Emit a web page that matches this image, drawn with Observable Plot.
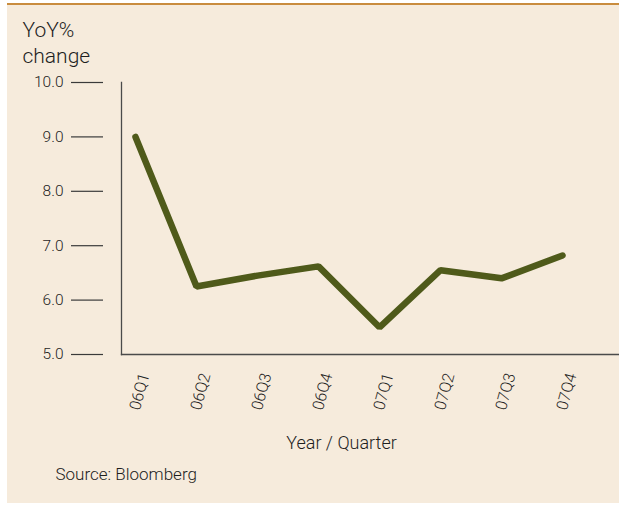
<!DOCTYPE html>
<html>
<head>
<meta charset="utf-8">
<script src="https://cdn.jsdelivr.net/npm/d3@7"></script>
<script src="https://cdn.jsdelivr.net/npm/@observablehq/plot@0.6"></script>
<style>
  html, body { margin: 0; padding: 0; background: #ffffff; }
  #wrap { position: relative; width: 619px; height: 505px; overflow: hidden; }
  #panel { position: absolute; left: 7px; top: 3px; width: 612px; height: 498px;
           background: #f6ebdc; border-top: 2px solid #c98c3e; }
  #chart { position: absolute; left: 0; top: 0; }
  #chart svg { background: transparent; }
</style>
</head>
<body>
<div id="wrap">
  <div id="panel"></div>
  <div id="chart"></div>
</div>
<script>
const quarters = ["06Q1", "06Q2", "06Q3", "06Q4", "07Q1", "07Q2", "07Q3", "07Q4"];
const yoyChange = [9.0, 6.25, 6.45, 6.62, 5.5, 6.55, 6.4, 6.82];
const yTicks = [5, 6, 7, 8, 9, 10];
const titleText = "YoY%\nchange";
const xLabel = "Year / Quarter";
const sourceText = "Source: Bloomberg";

const data = quarters.map((q, i) => ({q, v: yoyChange[i]}));
const font = "Roboto, 'Noto Sans', sans-serif";
const ink = "#1e1e1e";
const fw = 300;

const chart = Plot.plot({
  width: 619,
  height: 505,
  marginLeft: 121,
  marginRight: 0,
  marginTop: 82,
  marginBottom: 151,
  style: {fontFamily: font, color: ink, background: "transparent"},
  x: {type: "point", domain: quarters, padding: 0, insetLeft: 12, insetRight: 56, axis: null},
  y: {domain: [5, 10], axis: null},
  marks: [
    Plot.ruleY(yTicks, {y: d => d, insetLeft: -50, insetRight: 516, stroke: "#3a3a3a", strokeWidth: 1.2}),
    Plot.text(yTicks, {y: d => d, text: d => d.toFixed(1), frameAnchor: "left", dx: -58,
                       textAnchor: "end", fontSize: 15.5, fontWeight: fw, fill: ink}),
    Plot.frame({anchor: "left", stroke: "#4a4a4a", strokeWidth: 1.3}),
    Plot.frame({anchor: "bottom", stroke: "#4a4a4a", strokeWidth: 1.3}),
    Plot.line(data, {x: "q", y: "v", stroke: "#4f5a1a", strokeWidth: 6.5,
                     strokeLinecap: "round", strokeLinejoin: "miter"}),
    Plot.text(quarters, {x: d => d, frameAnchor: "bottom", rotate: -75, textAnchor: "end",
                         lineAnchor: "middle", dx: 9, dy: 19, fontSize: 16, fontWeight: fw, fill: ink}),
    Plot.text([xLabel], {frameAnchor: "bottom", dx: -29, dy: 81.5, lineAnchor: "top",
                         textAnchor: "middle", fontSize: 18, fontWeight: fw, fill: ink}),
    Plot.text([titleText], {frameAnchor: "top-left", dx: -99, dy: -63.6, lineAnchor: "top",
                            textAnchor: "start", fontSize: 21, lineHeight: 1.22, fontWeight: fw, fill: ink}),
    Plot.text([sourceText], {frameAnchor: "bottom-left", dx: -66, dy: 113.9, lineAnchor: "top",
                             textAnchor: "start", fontSize: 17, fontWeight: fw, fill: ink})
  ]
});
document.getElementById("chart").appendChild(chart);
</script>
</body>
</html>
